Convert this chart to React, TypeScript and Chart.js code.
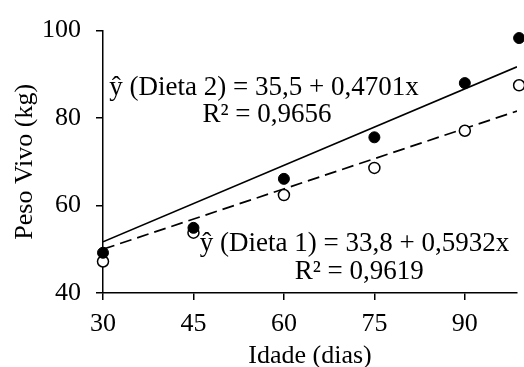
import React, { useEffect, useRef } from "react";
import { Chart, registerables } from "chart.js";

Chart.register(...registerables);

// ---- data ----
const days = [30, 45, 60, 75, 90, 99];
const dieta2 = [49.2, 54.9, 66.1, 75.6, 88.0, 98.3]; // filled circles
const dieta1 = [47.2, 53.8, 62.4, 68.6, 77.1, 87.5]; // open circles
const trendDays = [30, 98.65];
const trend2 = [51.7, 91.7]; // solid line
const trend1 = [50.0, 81.6]; // dashed line
const xTicks = [30, 45, 60, 75, 90];
const yTicks = [40, 60, 80, 100];
const eq2Lines = ["ŷ (Dieta 2) = 35,5 + 0,4701x", "R² = 0,9656"];
const eq1Lines = ["ŷ (Dieta 1) = 33,8 + 0,5932x", "R² = 0,9619"];
const xTitle = "Idade (dias)";
const yTitle = "Peso Vivo (kg)";

const FONT = '"Liberation Serif", "Times New Roman", serif';

const equationPlugin = {
  id: "equations",
  afterDatasetsDraw(chart: any) {
    const { ctx, scales } = chart;
    const xs = scales.x;
    const ys = scales.y;
    const items = [
      { text: eq2Lines[0], x: 56.7, y: 85.3 },
      { text: eq2Lines[1], x: 57.2, y: 79.0 },
      { text: eq1Lines[0], x: 71.7, y: 49.6 },
      { text: eq1Lines[1], x: 72.5, y: 43.1 },
    ];
    ctx.save();
    ctx.fillStyle = "#000";
    ctx.font = `27px ${FONT}`;
    ctx.textAlign = "center";
    ctx.textBaseline = "alphabetic";
    for (const it of items) {
      ctx.fillText(it.text, xs.getPixelForValue(it.x), ys.getPixelForValue(it.y));
    }
    ctx.restore();
  },
};

export default function App() {
  const ref = useRef<HTMLCanvasElement | null>(null);

  useEffect(() => {
    document.body.style.margin = "0";
    const canvas = ref.current;
    if (!canvas) return;
    const chart = new Chart(canvas, {
      type: "scatter",
      data: {
        datasets: [
          {
            label: "Dieta 2",
            data: days.map((d, i) => ({ x: d, y: dieta2[i] })),
            pointRadius: 5.5,
            pointBackgroundColor: "#000",
            pointBorderColor: "#000",
            pointBorderWidth: 1,
            clip: false,
          } as any,
          {
            label: "Dieta 1",
            data: days.map((d, i) => ({ x: d, y: dieta1[i] })),
            pointRadius: 5.5,
            pointBackgroundColor: "#fff",
            pointBorderColor: "#000",
            pointBorderWidth: 1.5,
            clip: false,
          } as any,
          {
            label: "Tendência Dieta 2",
            data: trendDays.map((d, i) => ({ x: d, y: trend2[i] })),
            showLine: true,
            borderColor: "#000",
            borderWidth: 1.7,
            pointRadius: 0,
          } as any,
          {
            label: "Tendência Dieta 1",
            data: trendDays.map((d, i) => ({ x: d, y: trend1[i] })),
            showLine: true,
            borderColor: "#000",
            borderWidth: 1.7,
            borderDash: [12, 6],
            pointRadius: 0,
          } as any,
        ],
      },
      options: {
        animation: false,
        responsive: false,
        layout: { padding: { top: 24, right: 0, left: 0, bottom: 0 } },
        plugins: {
          legend: { display: false },
          tooltip: { enabled: false },
        },
        scales: {
          x: {
            type: "linear",
            min: 30,
            max: 98.65,
            afterBuildTicks: (s: any) => {
              s.ticks = xTicks.map((v) => ({ value: v }));
            },
            afterFit: (s: any) => {
              s.height = 74;
            },
            ticks: {
              color: "#000",
              font: { family: FONT, size: 26 },
              padding: 9,
            },
            grid: {
              drawOnChartArea: false,
              drawTicks: true,
              tickLength: 7,
              color: "#000",
              lineWidth: 1.5,
            },
            border: { display: true, color: "#000", width: 1.5 },
            title: {
              display: true,
              text: xTitle,
              color: "#000",
              font: { family: FONT, size: 26, lineHeight: 0.85 },
              padding: { top: 0, bottom: 0 },
            },
          },
          y: {
            type: "linear",
            min: 40,
            max: 100,
            afterBuildTicks: (s: any) => {
              s.ticks = yTicks.map((v) => ({ value: v }));
            },
            afterFit: (s: any) => {
              s.width = 103;
            },
            ticks: {
              color: "#000",
              font: { family: FONT, size: 26 },
              padding: 15,
            },
            grid: {
              drawOnChartArea: false,
              drawTicks: true,
              tickLength: 7,
              color: "#000",
              lineWidth: 1.5,
            },
            border: { display: true, color: "#000", width: 1.5 },
            title: {
              display: true,
              text: yTitle,
              color: "#000",
              font: { family: FONT, size: 26, lineHeight: 1 },
              padding: { top: 12, bottom: 0 },
            },
          },
        },
      },
      plugins: [equationPlugin],
    } as any);
    return () => chart.destroy();
  }, []);

  return (
    <canvas
      ref={ref}
      width={524}
      height={367}
      style={{ position: "fixed", left: 0, top: 0, width: 524, height: 367, display: "block" }}
    />
  );
}
